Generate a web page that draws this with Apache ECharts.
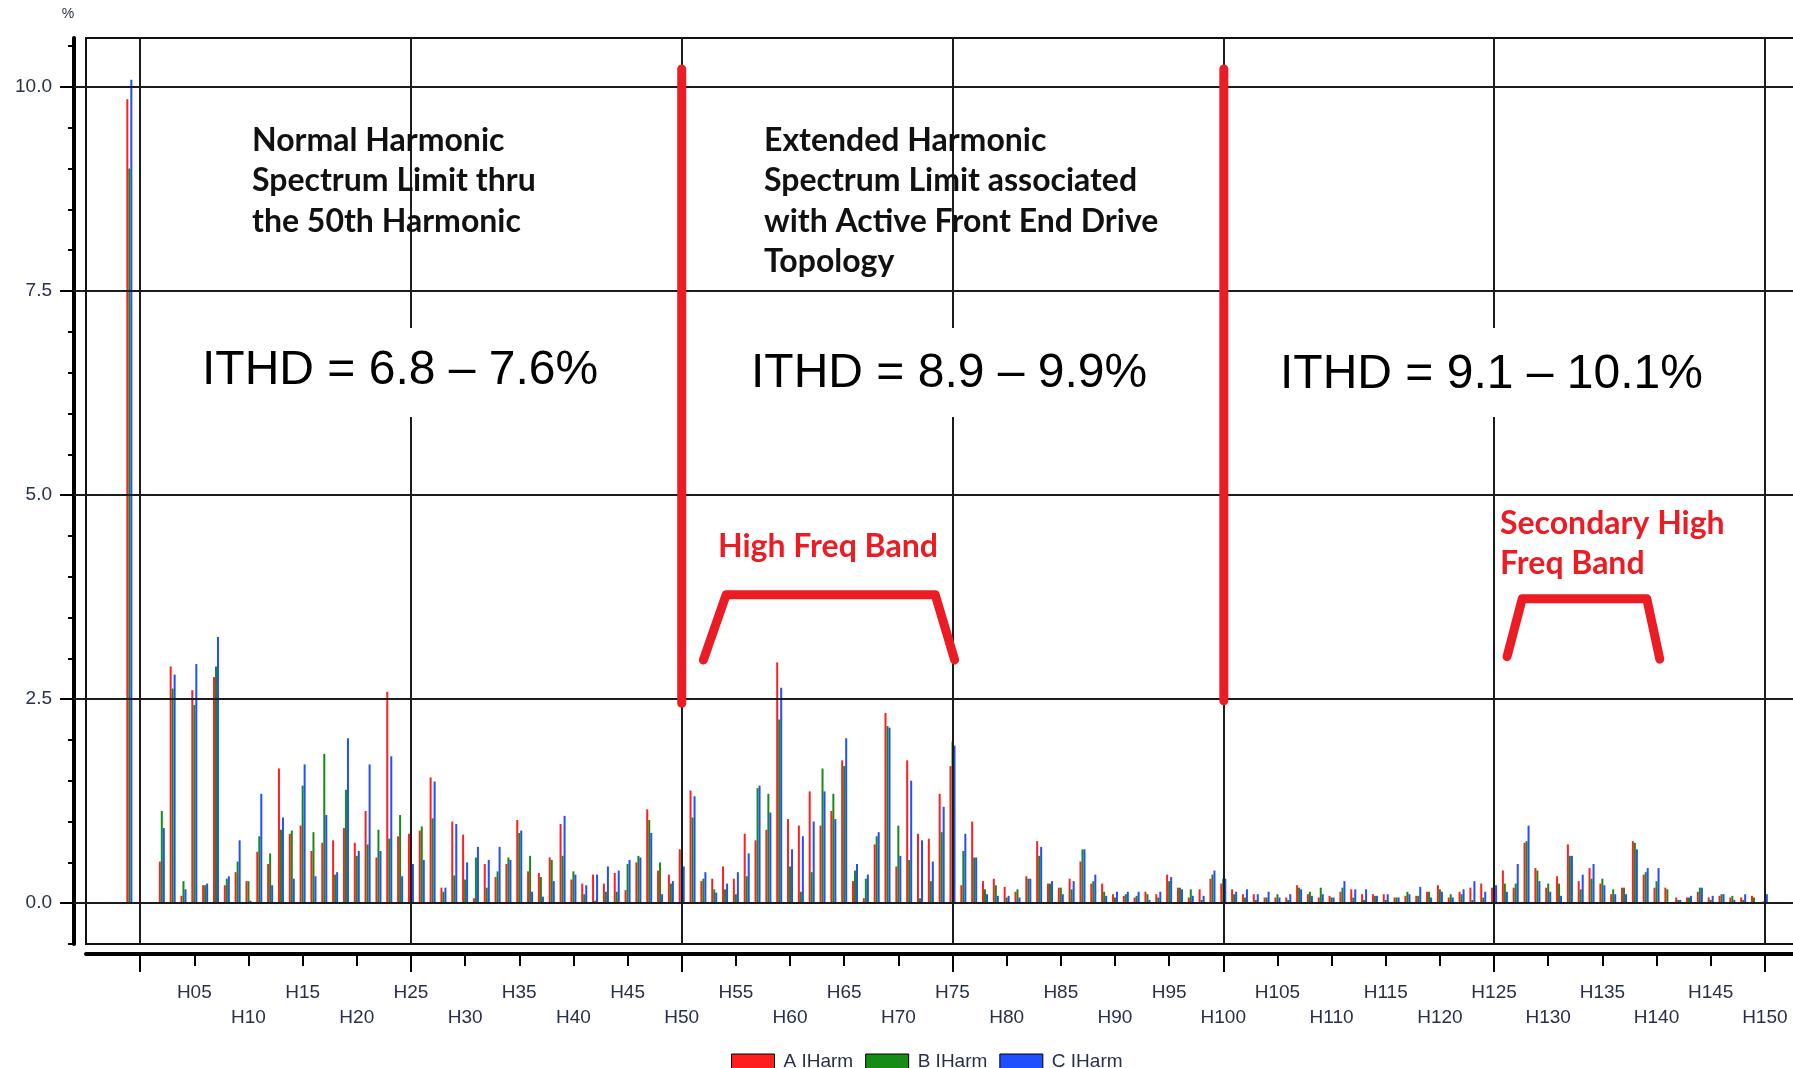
<!DOCTYPE html>
<html>
<head>
<meta charset="utf-8">
<title>Harmonic spectrum</title>
<script src="https://cdn.jsdelivr.net/npm/echarts@6/dist/echarts.min.js"></script>
<style>
  html, body { margin: 0; padding: 0; background: #fff; }
  #main { width: 1793px; height: 1068px; }
</style>
</head>
<body>
<div id="main"></div>
<script>
// bar positions: THD sits one slot left of H00, then H02 .. H150 (H01 not shown)
const thdPos = -1
const harmonicNums = []
for (let h = 2; h <= 150; h++) harmonicNums.push(h)
const positions = [thdPos].concat(harmonicNums)

// phase values, % (first entry = THD)
const aIHarm = [9.85,
  0.51, 2.90, 0.09, 2.61, 0.22, 2.77, 0.22, 0.38, 0.27, 0.63, 0.48, 1.65, 0.85, 0.95, 0.64, 0.74, 0.77, 0.92, 0.74,
  1.13, 0.56, 2.59, 0.82, 0.85, 0.89, 1.54, 0.19, 1.00, 0.84, 0.06, 0.48, 0.32, 0.48, 1.02, 0.39, 0.37, 0.56, 0.97,
  0.29, 0.24, 0.35, 0.24, 0.37, 0.16, 0.50, 1.15, 0.40, 0.35, 0.66, 1.38, 0.27, 0.30, 0.45, 0.30, 0.85, 0.77, 0.90,
  2.95, 1.03, 0.95, 1.37, 0.95, 1.13, 1.75, 0.27, 0.06, 0.72, 2.33, 0.45, 1.75, 0.85, 0.79, 1.34, 1.68, 0.22, 1.00,
  0.27, 0.30, 0.20, 0.14, 0.33, 0.76, 0.24, 0.19, 0.30, 0.51, 0.24, 0.24, 0.11, 0.09, 0.07, 0.14, 0.11, 0.35, 0.19,
  0.07, 0.17, 0.30, 0.24, 0.17, 0.11, 0.11, 0.07, 0.07, 0.07, 0.22, 0.11, 0.07, 0.09, 0.14, 0.17, 0.11, 0.11, 0.11,
  0.07, 0.09, 0.09, 0.14, 0.22, 0.07, 0.14, 0.19, 0.24, 0.19, 0.40, 0.19, 0.74, 0.43, 0.19, 0.33, 0.72, 0.27, 0.43,
  0.24, 0.11, 0.19, 0.76, 0.35, 0.19, 0.19, 0.07, 0.07, 0.14, 0.07, 0.09, 0.07, 0.07, 0.09, 0.02]
const bIHarm = [9.00,
  1.13, 2.63, 0.27, 2.43, 0.22, 2.90, 0.30, 0.51, 0.27, 0.82, 0.61, 0.90, 0.89, 1.44, 0.87, 1.83, 0.35, 1.39, 0.58,
  0.72, 0.90, 0.79, 1.08, 1.05, 0.94, 1.04, 0.14, 0.34, 0.29, 0.56, 0.19, 0.39, 0.56, 0.86, 0.58, 0.32, 0.53, 0.58,
  0.39, 0.11, 0.03, 0.14, 0.14, 0.48, 0.58, 1.02, 0.50, 0.24, 0.65, 1.05, 0.30, 0.17, 0.17, 0.11, 0.33, 1.41, 1.34,
  2.25, 0.45, 0.14, 0.38, 1.65, 1.34, 1.68, 0.40, 0.30, 0.82, 2.17, 0.95, 0.53, 0.06, 0.27, 0.87, 1.98, 0.64, 0.56,
  0.17, 0.22, 0.07, 0.17, 0.30, 0.58, 0.24, 0.19, 0.17, 0.66, 0.27, 0.14, 0.07, 0.11, 0.09, 0.11, 0.07, 0.27, 0.19,
  0.17, 0.04, 0.35, 0.30, 0.11, 0.07, 0.04, 0.07, 0.11, 0.04, 0.19, 0.14, 0.19, 0.07, 0.19, 0.07, 0.04, 0.09, 0.04,
  0.07, 0.14, 0.09, 0.14, 0.17, 0.11, 0.11, 0.04, 0.07, 0.20, 0.24, 0.24, 0.76, 0.40, 0.24, 0.24, 0.58, 0.17, 0.30,
  0.30, 0.17, 0.19, 0.74, 0.38, 0.27, 0.17, 0.04, 0.07, 0.19, 0.04, 0.11, 0.09, 0.04, 0.07, 0.02]
const cIHarm = [10.09,
  0.92, 2.80, 0.17, 2.93, 0.24, 3.26, 0.33, 0.77, 0.03, 1.34, 0.22, 1.05, 0.30, 1.70, 0.33, 1.08, 0.38, 2.02, 0.64,
  1.70, 0.64, 1.80, 0.33, 0.48, 0.53, 1.49, 0.19, 0.97, 0.50, 0.69, 0.53, 0.69, 0.53, 0.89, 0.14, 0.08, 0.27, 1.07,
  0.35, 0.22, 0.35, 0.45, 0.40, 0.53, 0.56, 0.86, 0.11, 0.27, 0.45, 1.31, 0.38, 0.13, 0.24, 0.38, 0.61, 1.44, 1.11,
  2.64, 0.66, 0.82, 1.00, 1.37, 1.03, 2.02, 0.48, 0.35, 0.87, 2.15, 0.58, 1.50, 0.77, 0.51, 1.18, 1.93, 0.85, 0.56,
  0.11, 0.09, 0.09, 0.07, 0.30, 0.69, 0.27, 0.11, 0.27, 0.66, 0.35, 0.09, 0.14, 0.14, 0.14, 0.04, 0.14, 0.32, 0.17,
  0.09, 0.09, 0.40, 0.30, 0.14, 0.17, 0.11, 0.14, 0.07, 0.11, 0.17, 0.09, 0.11, 0.07, 0.27, 0.17, 0.17, 0.09, 0.11,
  0.07, 0.11, 0.20, 0.07, 0.14, 0.07, 0.17, 0.27, 0.14, 0.22, 0.14, 0.48, 0.95, 0.27, 0.14, 0.09, 0.58, 0.35, 0.48,
  0.22, 0.11, 0.11, 0.66, 0.43, 0.43, 0.00, 0.04, 0.09, 0.19, 0.09, 0.11, 0.04, 0.11, 0.00, 0.11]

// axis ticks and labels
const xLabelValues = [5, 10, 15, 20, 25, 30, 35, 40, 45, 50, 55, 60, 65, 70, 75, 80, 85, 90, 95, 100,
  105, 110, 115, 120, 125, 130, 135, 140, 145, 150]
const xMinorTicks = [0].concat(xLabelValues)
const xMajorTicks = [0, 25, 50, 75, 100, 125, 150]
const yLabelValues = [0, 2.5, 5, 7.5, 10]
const yMinorTicks = [-0.5, 0, 0.5, 1, 1.5, 2, 2.5, 3, 3.5, 4, 4.5, 5, 5.5, 6, 6.5, 7, 7.5, 8, 8.5, 9, 9.5, 10, 10.5]

// hand drawn annotation shapes, in chart units (harmonic, %)
const bandLine1 = [[50, 10.22], [50, 2.45]]
const bandLine2 = [[100.05, 10.22], [100.05, 2.48]]
const bracket1 = [[52.0, 2.98], [54.1, 3.78], [73.4, 3.78], [75.2, 2.98]]
const bracket2 = [[126.2, 3.02], [127.6, 3.73], [139.1, 3.73], [140.3, 2.99]]

const FONT = '"Liberation Sans", Arial, sans-serif'
const NOTE_FONT = 'Lato, "Open Sans", sans-serif'
const LABEL_COLOR = '#273049'
const RED = '#ec1c24'
const GRID_COLOR = '#1c1c1c'

function pairs(vals) {
  return vals.map((v, i) => [positions[i], v])
}

function hLabel(v) {
  return v < 10 ? 'H0' + v : 'H' + v
}

const yBase = { type: 'value', min: -0.5, max: 10.6, position: 'left', offset: 12, splitLine: { show: false } }
const xBase = { type: 'value', min: -5, max: 155, position: 'bottom', offset: 10, splitLine: { show: false } }

const annotationLine = (data) => ({
  type: 'line',
  data: data,
  symbol: 'none',
  silent: true,
  z: 10,
  lineStyle: { color: RED, width: 9, cap: 'round', join: 'round' }
})

const chart = echarts.init(document.getElementById('main'))
chart.setOption({
  animation: false,
  grid: {
    left: 86,
    top: 38,
    width: 1733,
    height: 906,
    outerBoundsMode: 'none',
    containLabel: false,
    show: true,
    borderColor: '#111',
    borderWidth: 2
  },
  legend: {
    data: ['A IHarm', 'B IHarm', 'C IHarm'],
    left: 726,
    top: 1047,
    icon: 'rect',
    itemWidth: 43,
    itemHeight: 15,
    itemGap: 12,
    itemStyle: { borderColor: '#000', borderWidth: 1 },
    textStyle: { fontFamily: FONT, fontSize: 19, color: LABEL_COLOR, padding: [0, 0, 0, 4] }
  },
  xAxis: [
    Object.assign({}, xBase, {
      axisLine: { show: true, onZero: false, lineStyle: { color: '#000', width: 4, cap: 'round' } },
      axisTick: { show: true, customValues: xMinorTicks, length: 12, lineStyle: { color: '#000', width: 2 } },
      axisLabel: {
        customValues: xLabelValues,
        margin: 26,
        lineHeight: 25,
        fontFamily: FONT,
        fontSize: 19,
        color: LABEL_COLOR,
        formatter: (v) => (v % 10 === 0 ? '\n' : '') + hLabel(v)
      }
    }),
    Object.assign({}, xBase, {
      axisLine: { show: false, onZero: false },
      axisTick: { show: true, customValues: xMajorTicks, length: 18, lineStyle: { color: '#000', width: 2 } },
      axisLabel: { show: false }
    })
  ],
  yAxis: [
    Object.assign({}, yBase, {
      axisLine: { show: true, onZero: false, lineStyle: { color: '#000', width: 4 } },
      axisTick: { show: true, customValues: yLabelValues, length: 14, lineStyle: { color: '#000', width: 2 } },
      axisLabel: {
        customValues: yLabelValues,
        margin: 22,
        fontFamily: FONT,
        fontSize: 19,
        color: LABEL_COLOR,
        formatter: (v) => v.toFixed(1)
      }
    }),
    Object.assign({}, yBase, {
      axisLine: { show: false, onZero: false },
      axisTick: { show: true, customValues: yMinorTicks, length: 6, lineStyle: { color: '#000', width: 2 } },
      axisLabel: { show: false }
    }),
    Object.assign({}, yBase, {
      axisLine: { show: false, onZero: false },
      axisTick: { show: true, inside: true, customValues: yLabelValues, length: 12, lineStyle: { color: GRID_COLOR, width: 2 } },
      axisLabel: { show: false }
    })
  ],
  series: [
    {
      // grid lines
      type: 'line',
      data: [],
      z: 1,
      silent: true,
      markLine: {
        silent: true,
        symbol: ['none', 'none'],
        label: { show: false },
        animation: false,
        lineStyle: { color: GRID_COLOR, width: 2, type: 'solid' },
        emphasis: { disabled: true },
        data: xMajorTicks.map((v) => ({ xAxis: v })).concat(yLabelValues.map((v) => ({ yAxis: v })))
      }
    },
    { name: 'A IHarm', type: 'bar', z: 3, barWidth: 2, barGap: '0%', itemStyle: { color: '#ff1f1f' }, data: pairs(aIHarm) },
    { name: 'B IHarm', type: 'bar', z: 3, barWidth: 2, barGap: '0%', itemStyle: { color: '#168c16' }, data: pairs(bIHarm) },
    { name: 'C IHarm', type: 'bar', z: 3, barWidth: 2, barGap: '0%', itemStyle: { color: '#1f4fff' }, data: pairs(cIHarm) },
    annotationLine(bandLine1),
    annotationLine(bandLine2),
    annotationLine(bracket1),
    annotationLine(bracket2)
  ],
  graphic: [
    { type: 'text', x: 68, y: 14, z: 100, style: { text: '%', fontFamily: FONT, fontSize: 14, fill: LABEL_COLOR, align: 'center', verticalAlign: 'middle' } },
    { type: 'text', x: 252, y: 120, z: 100, style: { text: 'Normal Harmonic\nSpectrum Limit thru\nthe 50th Harmonic', fontFamily: NOTE_FONT, fontWeight: 'bold', fontSize: 32, lineHeight: 40.6, fill: '#111' } },
    { type: 'text', x: 764, y: 120, z: 100, style: { text: 'Extended Harmonic\nSpectrum Limit associated\nwith Active Front End Drive\nTopology', fontFamily: NOTE_FONT, fontWeight: 'bold', fontSize: 32, lineHeight: 40.6, fill: '#111' } },
    { type: 'rect', z: 99, shape: { x: 196, y: 328, width: 336, height: 89 }, style: { fill: '#fff' } },
    { type: 'rect', z: 99, shape: { x: 745, y: 328, width: 410, height: 89 }, style: { fill: '#fff' } },
    { type: 'rect', z: 99, shape: { x: 1274, y: 328, width: 434, height: 89 }, style: { fill: '#fff' } },
    { type: 'text', x: 202, y: 371, z: 100, style: { text: 'ITHD = 6.8 – 7.6%', fontFamily: FONT, fontSize: 48, fill: '#000', verticalAlign: 'middle' } },
    { type: 'text', x: 751, y: 374, z: 100, style: { text: 'ITHD = 8.9 – 9.9%', fontFamily: FONT, fontSize: 48, fill: '#000', verticalAlign: 'middle' } },
    { type: 'text', x: 1280, y: 375, z: 100, style: { text: 'ITHD = 9.1 – 10.1%', fontFamily: FONT, fontSize: 48, fill: '#000', verticalAlign: 'middle' } },
    { type: 'text', x: 718, y: 526, z: 100, style: { text: 'High Freq Band', fontFamily: NOTE_FONT, fontWeight: 'bold', fontSize: 32, lineHeight: 40.6, fill: RED } },
    { type: 'text', x: 1500, y: 503, z: 100, style: { text: 'Secondary High\nFreq Band', fontFamily: NOTE_FONT, fontWeight: 'bold', fontSize: 32, lineHeight: 40.6, fill: RED } }
  ]
})
</script>
</body>
</html>
